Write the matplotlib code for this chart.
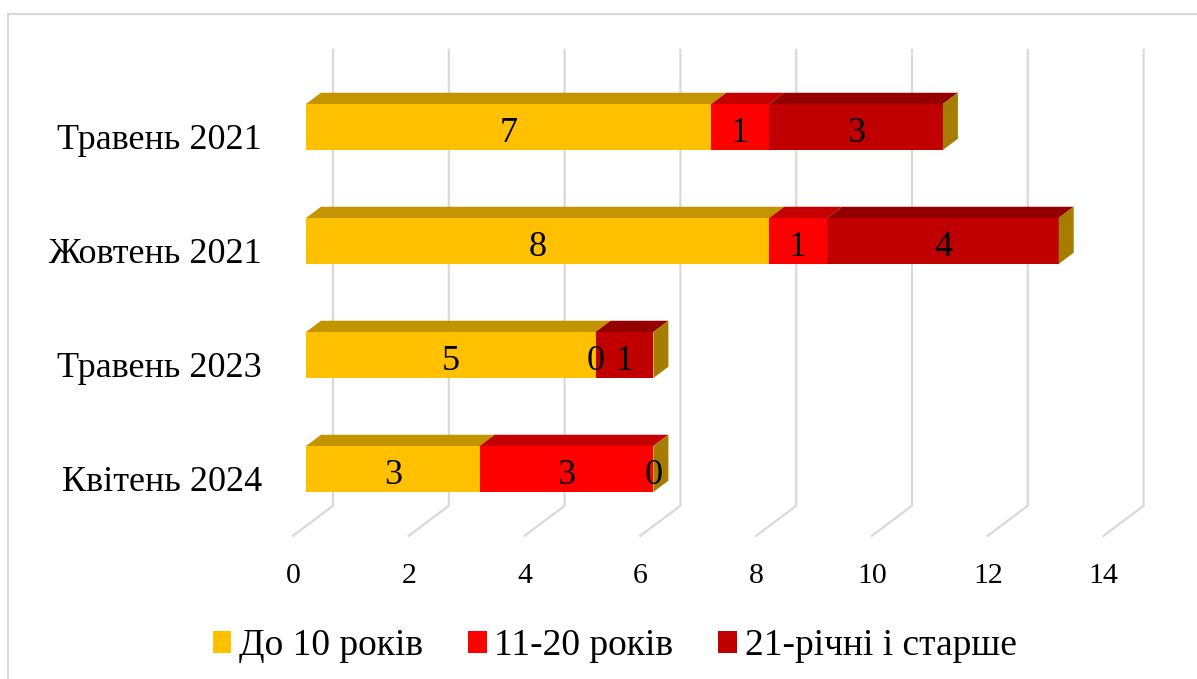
import matplotlib.pyplot as plt
from matplotlib.patches import Polygon, Patch, Rectangle

# Data
categories = ["Травень 2021", "Жовтень 2021", "Травень 2023", "Квітень 2024"]
series_names = ["До 10 років", "11-20 років", "21-річні і старше"]
under_10 = [7, 8, 5, 3]
from_11_to_20 = [1, 1, 0, 3]
over_21 = [3, 4, 1, 0]
x_ticks = [0, 2, 4, 6, 8, 10, 12, 14]

front_colors = ["#FFC000", "#FF0000", "#C00000"]
top_colors = ["#C49300", "#C40000", "#940000"]
side_color = "#A67D00"
grid_color = "#D9D9D9"
font = "Liberation Serif"

W, H, DPI = 1197, 679, 100
fig = plt.figure(figsize=(W / DPI, H / DPI), dpi=DPI)
ax = fig.add_axes([0, 0, 1, 1])

# Screen scale: pixels per value unit and per category row
PX_PER_UNIT = 57.9
PX_PER_ROW = 114.0
X0_PX = 293.0       # value 0 on the front plane
Y0_PX = 136.75      # first category centre on the front plane
ax.set_xlim(-X0_PX / PX_PER_UNIT, (W - X0_PX) / PX_PER_UNIT)
ax.set_ylim((H - Y0_PX) / PX_PER_ROW, -Y0_PX / PX_PER_ROW)
ax.axis("off")

# Oblique depth projection (depth 0 = front plane, 1 = back wall)
DX = 40.0 / PX_PER_UNIT
DY = -30.0 / PX_PER_ROW


def proj(v, h, d):
    return (v + d * DX, h + d * DY)


FLOOR = len(categories) - 0.5
TOP = -0.5
BAR_H = 46.0 / PX_PER_ROW
D0, D1 = 0.325, 0.70

# Outer chart border (left and top edges visible)
border_top = 1 - 14 / H
ax.add_patch(Rectangle((8 / W, -0.05), 1.2, border_top + 0.05, transform=ax.transAxes,
                       fill=False, edgecolor="#D9D9D9", lw=1.5, clip_on=False))

# Gridlines: floor diagonal plus vertical line on the back wall
for v in x_ticks:
    pts = [proj(v, FLOOR, 0), proj(v, FLOOR, 1), proj(v, TOP, 1)]
    ax.plot([p[0] for p in pts], [p[1] for p in pts], color=grid_color, lw=1.6,
            zorder=1, solid_joinstyle="miter")
    tx, ty = proj(v, FLOOR, 0)
    ax.text(tx, ty + 40 / PX_PER_ROW, str(v), ha="center", va="center",
            fontsize=21.5, family=font, zorder=5)

series = [under_10, from_11_to_20, over_21]
for i, cat in enumerate(categories):
    top_h = i - BAR_H / 2
    bot_h = i + BAR_H / 2
    left = 0.0
    for s, vals in enumerate(series):
        val = vals[i]
        right = left + val
        if val > 0:
            # top face
            ax.add_patch(Polygon([proj(left, top_h, D0), proj(right, top_h, D0),
                                  proj(right, top_h, D1), proj(left, top_h, D1)],
                                 closed=True, facecolor=top_colors[s], edgecolor="none",
                                 zorder=3))
            # front face
            ax.add_patch(Polygon([proj(left, top_h, D0), proj(right, top_h, D0),
                                  proj(right, bot_h, D0), proj(left, bot_h, D0)],
                                 closed=True, facecolor=front_colors[s], edgecolor="none",
                                 zorder=3))
        cx, cy = proj((left + right) / 2, i, D0)
        ax.text(cx, cy + 7 / PX_PER_ROW, str(val), ha="center", va="center",
                fontsize=26, family=font, zorder=6)
        left = right
    # end cap of the stacked bar
    ax.add_patch(Polygon([proj(left, top_h, D0), proj(left, top_h, D1),
                          proj(left, bot_h, D1), proj(left, bot_h, D0)],
                         closed=True, facecolor=side_color, edgecolor="none", zorder=3))
    lx, ly = proj(0, i, 0)
    ax.text(lx - 31 / PX_PER_UNIT, ly + 4 / PX_PER_ROW, cat, ha="right", va="center",
            fontsize=26, family=font, zorder=5)

handles = [Patch(facecolor=c, edgecolor="none", label=n) for c, n in zip(front_colors, series_names)]
fig.legend(handles=handles, loc="center", bbox_to_anchor=(0.5134, 1 - 646 / H), ncol=3,
           frameon=False, prop={"family": font, "size": 27}, handlelength=0.5,
           handleheight=0.5, handletextpad=0.2, columnspacing=1.2)

fig.savefig("out.png", dpi=DPI)
